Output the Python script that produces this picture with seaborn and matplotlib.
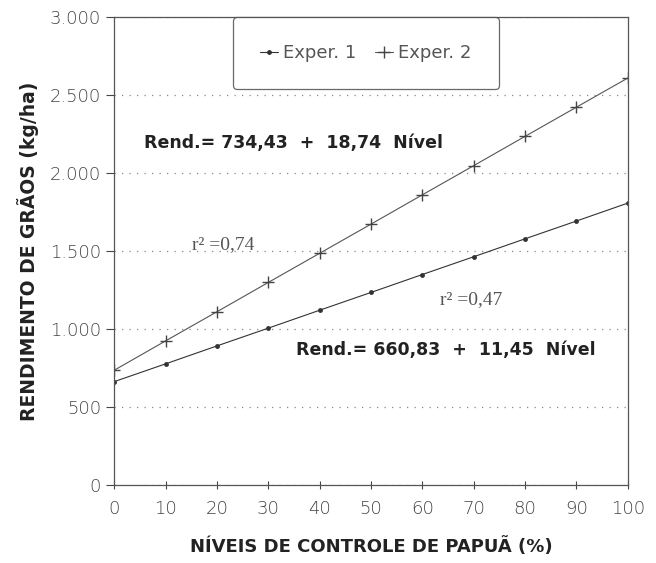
import numpy as np
import pandas as pd
import matplotlib
matplotlib.use("Agg")
import matplotlib.pyplot as plt
import seaborn as sns

niveis = [0, 10, 20, 30, 40, 50, 60, 70, 80, 90, 100]
exper1 = [661, 775, 890, 1004, 1119, 1233, 1348, 1462, 1577, 1691, 1806]
exper2 = [734, 922, 1109, 1297, 1484, 1671, 1859, 2046, 2234, 2421, 2608]
yticks = [0, 500, 1000, 1500, 2000, 2500, 3000]
yticklabels = ["0", "500", "1.000", "1.500", "2.000", "2.500", "3.000"]

sns.set_style("ticks")

fig = plt.figure(figsize=(6.56, 5.63), dpi=100)
ax = fig.add_axes([0.174, 0.139, 0.783, 0.831])

# one call per series (dot and plus markers can't be mixed in one style map)
sns.lineplot(x=niveis, y=exper1, marker="o", markersize=3.5, color="#333333",
             markeredgewidth=0, linewidth=0.8, label="Exper. 1", ax=ax)
sns.lineplot(x=niveis, y=exper2, marker="+", markersize=9, color="#555555",
             markeredgecolor="#444444", markeredgewidth=1.0, linewidth=0.8,
             label="Exper. 2", ax=ax)

ax.set_xlim(0, 100)
ax.set_ylim(0, 3000)
ax.set_xticks(niveis)
ax.set_yticks(yticks)
ax.set_yticklabels(yticklabels)
ax.tick_params(axis="both", labelsize=13, colors="#444444", length=6, width=0.8)
ax.tick_params(axis="x", direction="inout", pad=8)
for lab in ax.get_xticklabels() + ax.get_yticklabels():
    lab.set_fontweight("light")
for s in ax.spines.values():
    s.set_color("#555555")
    s.set_linewidth(0.9)
ax.yaxis.grid(True, linestyle=(0, (1, 5)), color="#888888", linewidth=0.9)

ax.set_xlabel("NÍVEIS DE CONTROLE DE PAPUÃ (%)", fontsize=13, fontweight="bold",
              family="DejaVu Sans", labelpad=14, color="#222222")
ax.set_ylabel("RENDIMENTO DE GRÃOS (kg/ha)", fontsize=13.5, fontweight="bold",
              family="DejaVu Sans", labelpad=8, color="#222222")

leg = ax.legend(loc="upper center", bbox_to_anchor=(0.49, 1.0), ncol=2,
                fontsize=13, frameon=True, fancybox=True, handlelength=1.0,
                handletextpad=0.3, columnspacing=1.0, borderpad=1.5,
                borderaxespad=0)
leg.get_frame().set_edgecolor("#444444")
leg.get_frame().set_linewidth(0.9)
for t in leg.get_texts():
    t.set_color("#555555")

ax.text(5.8, 2190, "Rend.= 734,43  +  18,74  Nível", fontsize=12.5, fontweight="bold",
        family="DejaVu Sans", color="#222222", va="center")
ax.text(15.2, 1540, "r² =0,74", fontsize=14, family="Liberation Serif",
        color="#555555", va="center")
ax.text(63.4, 1186, "r² =0,47", fontsize=14, family="Liberation Serif",
        color="#555555", va="center")
ax.text(35.5, 865, "Rend.= 660,83  +  11,45  Nível", fontsize=12.5, fontweight="bold",
        family="DejaVu Sans", color="#222222", va="center")

fig.savefig("out.png", dpi=100)
